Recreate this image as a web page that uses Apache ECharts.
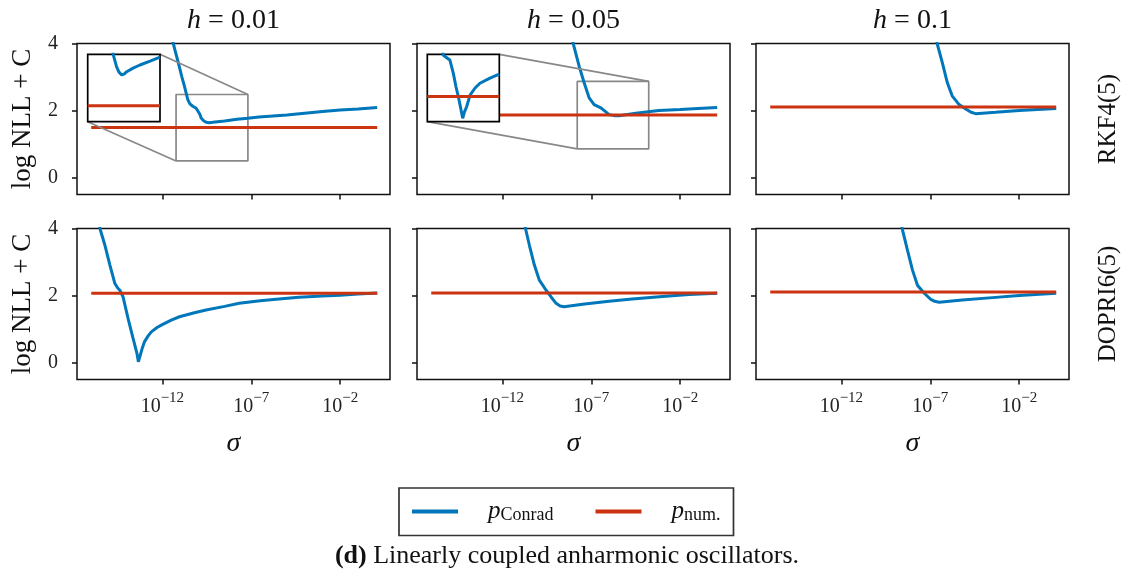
<!DOCTYPE html>
<html><head><meta charset="utf-8">
<script src="https://cdn.jsdelivr.net/npm/echarts@6/dist/echarts.min.js"></script>
<style>html,body{margin:0;padding:0;background:#fff}#c{width:1135px;height:585px}</style>
</head><body><div id="c"></div>
<script>
// ---------------- data (x = log10 sigma) ----------------
const stepSizes = ['0.01', '0.05', '0.1'];
const solvers = ['RKF4(5)', 'DOPRI6(5)'];
const xTickExponents = [-12, -7, -2];
const yTicks = [0, 2, 4];
const xRange = [-16.8, 0.8];
const yRange = [-0.5, 4];

const conrad_RKF45_h001 = [[-11.6,4.45],[-11.37,3.97],[-11.2,3.62],[-11.05,3.32],[-10.9,3.0],[-10.76,2.73],[-10.57,2.33],[-10.45,2.2],[-10.29,2.13],[-10.1,2.07],[-10.01,2.03],[-9.9,1.9],[-9.82,1.78],[-9.68,1.7],[-9.54,1.65],[-9.35,1.64],[-9.17,1.65],[-8.5,1.69],[-7.8,1.74],[-7.2,1.77],[-6.56,1.81],[-5,1.87],[-4,1.92],[-3,1.97],[-2,2.02],[-1,2.05],[0.08,2.09]];
const conrad_RKF45_h005 = [[-8.2,4.4],[-8.0,3.97],[-7.68,3.32],[-7.4,2.83],[-7.12,2.38],[-6.84,2.18],[-6.46,2.08],[-6.2,1.97],[-6.0,1.88],[-5.7,1.85],[-5.44,1.85],[-4.5,1.92],[-3.2,2.0],[-2,2.03],[-1,2.06],[0.08,2.09]];
const conrad_RKF45_h01 = [[-6.75,4.3],[-6.6,3.97],[-6.32,3.42],[-6.04,2.83],[-5.76,2.43],[-5.38,2.18],[-5.01,2.05],[-4.7,1.95],[-4.45,1.91],[-3.33,1.95],[-2,2.0],[0.08,2.06]];
const conrad_DOPRI65_h001 = [[-15.7,4.4],[-15.51,4.0],[-15.23,3.5],[-14.95,2.91],[-14.67,2.36],[-14.5,2.22],[-14.39,2.16],[-14.21,1.96],[-13.93,1.32],[-13.65,0.73],[-13.43,0.28],[-13.35,0.03],[-13.3,0.02],[-13.24,0.23],[-13.15,0.4],[-13.0,0.63],[-12.8,0.8],[-12.62,0.92],[-12.3,1.05],[-12.06,1.12],[-11.5,1.27],[-11.04,1.37],[-10.2,1.49],[-9.54,1.57],[-8.5,1.68],[-7.68,1.77],[-6.5,1.85],[-5.44,1.9],[-4.33,1.95],[-3,1.99],[-2,2.01],[-1,2.05],[0.08,2.08]];
const conrad_DOPRI65_h005 = [[-10.85,4.35],[-10.7,4.0],[-10.48,3.5],[-10.2,2.91],[-9.92,2.46],[-9.54,2.16],[-9.26,1.96],[-8.98,1.77],[-8.75,1.69],[-8.52,1.67],[-7.49,1.74],[-6,1.83],[-4.7,1.9],[-3,1.97],[-1.5,2.03],[0.08,2.07]];
const conrad_DOPRI65_h01 = [[-8.72,4.35],[-8.56,3.95],[-8.28,3.35],[-8.0,2.76],[-7.72,2.31],[-7.34,2.07],[-6.97,1.89],[-6.75,1.83],[-6.5,1.8],[-5.2,1.87],[-3.5,1.94],[-2,2.0],[0.08,2.07]];

const num_RKF45_h001 = [[-16,1.50],[0.08,1.50]];
const num_RKF45_h005 = [[-16,1.87],[0.08,1.87]];
const num_RKF45_h01 = [[-16,2.11],[0.08,2.11]];
const num_DOPRI65_h001 = [[-16,2.07],[0.08,2.07]];
const num_DOPRI65_h005 = [[-16,2.08],[0.08,2.08]];
const num_DOPRI65_h01 = [[-16,2.11],[0.08,2.11]];

// insets (RKF4(5), h=0.01 and h=0.05)
const inset1_x = [-11.2, -7.2];
const inset1_y = [1.42, 1.76];
const inset1_conrad = [[-9.85,1.80],[-9.78,1.756],[-9.6,1.697],[-9.47,1.67],[-9.32,1.656],[-9.19,1.66],[-9.04,1.672],[-8.69,1.69],[-8.31,1.706],[-7.75,1.726],[-7.2,1.746]];
const zoomBox1_x = [-11.23, -7.19];
const zoomBox1_y = [0.5, 2.48];

const inset2_x = [-7.77, -3.76];
const inset2_y = [1.72, 2.12];
const inset2_conrad = [[-6.95,2.16],[-6.88,2.116],[-6.67,2.098],[-6.51,2.086],[-6.32,2.007],[-6.17,1.926],[-6.04,1.868],[-5.89,1.789],[-5.8,1.74],[-5.7,1.778],[-5.58,1.809],[-5.39,1.878],[-5.11,1.92],[-4.84,1.948],[-4.28,1.979],[-3.76,2.003]];
const zoomBox2_x = [-7.79, -3.77];
const zoomBox2_y = [0.86, 2.87];

const conradData = [conrad_RKF45_h001, conrad_RKF45_h005, conrad_RKF45_h01, conrad_DOPRI65_h001, conrad_DOPRI65_h005, conrad_DOPRI65_h01];
const numData = [num_RKF45_h001, num_RKF45_h005, num_RKF45_h01, num_DOPRI65_h001, num_DOPRI65_h005, num_DOPRI65_h01];

// ---------------- layout / style ----------------
const FONT = 'Liberation Serif';
const BLUE = '#0077BB', RED = '#CC3311';
const colLeft = [77, 417, 756], panelW = 313;
const rowTop = [43.5, 228.5], panelH = 151;
const insetRects = [{left: 87.7, top: 54.3, width: 72.3, height: 67.4}, {left: 427.3, top: 54.3, width: 72, height: 67.4}];
const insets = [
  {grid: 0, x: inset1_x, y: inset1_y, data: inset1_conrad, num: num_RKF45_h001, bx: zoomBox1_x, by: zoomBox1_y},
  {grid: 1, x: inset2_x, y: inset2_y, data: inset2_conrad, num: num_RKF45_h005, bx: zoomBox2_x, by: zoomBox2_y}
];

const grids = [], xAxes = [], yAxes = [], series = [];
const tickStyle = {color: '#111', width: 1.5};
for (let r = 0; r < 2; r++) {
  for (let c = 0; c < 3; c++) {
    const i = r * 3 + c;
    grids.push({left: colLeft[c], top: rowTop[r], width: panelW, height: panelH, show: true,
      borderColor: '#111', borderWidth: 1.5, backgroundColor: 'transparent'});
    xAxes.push({gridIndex: i, type: 'value', position: 'bottom', min: xRange[0], max: xRange[1],
      axisLine: {show: false, onZero: false}, splitLine: {show: false},
      axisTick: {show: true, inside: false, customValues: xTickExponents, length: 5, lineStyle: tickStyle},
      axisLabel: {show: r === 1, customValues: xTickExponents, margin: 11,
        formatter: v => '{b|10}{s|\u2212' + Math.abs(v) + '}',
        rich: {b: {fontFamily: FONT, fontSize: 20, color: '#222', lineHeight: 26, verticalAlign: 'bottom'},
               s: {fontFamily: FONT, fontSize: 15, color: '#222', verticalAlign: 'top'}}},
      name: r === 1 ? '\u03c3' : '', nameLocation: 'middle', nameGap: 50,
      nameTextStyle: {fontFamily: FONT, fontStyle: 'italic', fontSize: 28, color: '#111'}});
    yAxes.push({gridIndex: i, type: 'value', position: 'left', min: yRange[0], max: yRange[1],
      axisLine: {show: false, onZero: false}, splitLine: {show: false},
      axisTick: {show: true, inside: false, customValues: yTicks, length: 5, lineStyle: tickStyle},
      axisLabel: {show: c === 0, customValues: yTicks, margin: 19, fontFamily: FONT, fontSize: 20, color: '#222'},
      name: c === 0 ? 'log NLL + C' : '', nameLocation: 'middle', nameGap: 41, nameRotate: 90,
      nameTextStyle: {fontFamily: FONT, fontSize: 27, color: '#111'}});
    series.push({type: 'line', name: 'Conrad', xAxisIndex: i, yAxisIndex: i, data: conradData[i],
      symbol: 'none', showSymbol: false, lineStyle: {color: BLUE, width: 3}, itemStyle: {color: BLUE}, z: 3, silent: true});
    series.push({type: 'line', name: 'num', xAxisIndex: i, yAxisIndex: i, data: numData[i],
      symbol: 'none', showSymbol: false, lineStyle: {color: RED, width: 3}, itemStyle: {color: RED}, z: 4, silent: true});
  }
}
insets.forEach((ins, k) => {
  const gi = 6 + k;
  grids.push(Object.assign({show: true, borderColor: '#000', borderWidth: 1.7, backgroundColor: '#fff', z: 10}, insetRects[k]));
  xAxes.push({gridIndex: gi, type: 'value', min: ins.x[0], max: ins.x[1], show: false, splitLine: {show: false}});
  yAxes.push({gridIndex: gi, type: 'value', min: ins.y[0], max: ins.y[1], show: false, splitLine: {show: false}});
  series.push({type: 'line', name: 'Conrad', xAxisIndex: gi, yAxisIndex: gi, data: ins.data, symbol: 'none',
    lineStyle: {color: BLUE, width: 3}, itemStyle: {color: BLUE}, z: 12, silent: true});
  // the constant p_num. value, restricted to the inset's x-range
  const v = ins.num[0][1];
  series.push({type: 'line', name: 'num', xAxisIndex: gi, yAxisIndex: gi, data: [[ins.x[0], v], [ins.x[1], v]], symbol: 'none',
    lineStyle: {color: RED, width: 3, cap: 'butt'}, itemStyle: {color: RED}, z: 13, silent: true});
  // zoom indicator box in the parent axes
  const bx = ins.bx, by = ins.by;
  series.push({type: 'line', name: 'box' + k, xAxisIndex: ins.grid, yAxisIndex: ins.grid, symbol: 'none',
    data: [[bx[0], by[0]], [bx[1], by[0]], [bx[1], by[1]], [bx[0], by[1]], [bx[0], by[0]]],
    lineStyle: {color: '#888', width: 1.7}, itemStyle: {color: '#888'}, z: 2, silent: true});
});

const graphics = [];
stepSizes.forEach((h, c) => {
  graphics.push({type: 'text', id: 't' + c, x: colLeft[c] + panelW / 2, y: 21, silent: true,
    style: {text: '{i|h} = ' + h, align: 'center', verticalAlign: 'middle', fill: '#111',
      rich: {i: {fontFamily: FONT, fontStyle: 'italic', fontSize: 28, fill: '#111'}}, fontFamily: FONT, fontSize: 28}});
});
solvers.forEach((s, r) => {
  graphics.push({type: 'text', id: 'r' + r, x: 1108, y: rowTop[r] + panelH / 2, rotation: Math.PI / 2, silent: true,
    style: {text: s, align: 'center', verticalAlign: 'middle', fill: '#111', fontFamily: FONT, fontSize: 25}});
});
graphics.push({type: 'text', id: 'cap', x: 567, y: 556, silent: true,
  style: {text: '{b|(d)} Linearly coupled anharmonic oscillators.', align: 'center', verticalAlign: 'middle',
    fill: '#111', fontFamily: FONT, fontSize: 26, rich: {b: {fontFamily: FONT, fontWeight: 'bold', fontSize: 26, fill: '#111'}}}});

const option = {
  animation: false,
  backgroundColor: '#fff',
  grid: grids, xAxis: xAxes, yAxis: yAxes, series: series,
  legend: {left: 399, top: 488, orient: 'horizontal', padding: [11, 13, 11, 13], itemGap: 42,
    itemWidth: 46, itemHeight: 4, icon: 'rect', borderColor: '#333', borderWidth: 1.7, borderRadius: 0,
    data: ['Conrad', 'num'], selectedMode: false,
    formatter: n => n === 'Conrad' ? '{p|p}{s|Conrad}' : '{p|p}{s|num.}',
    textStyle: {rich: {
      p: {fontFamily: FONT, fontStyle: 'italic', fontSize: 25, color: '#111', padding: [0, 0, 0, 25], lineHeight: 26},
      s: {fontFamily: FONT, fontSize: 18, color: '#111', verticalAlign: 'bottom'}}}},
  graphic: graphics
};

const chart = echarts.init(document.getElementById('c'), null, {renderer: 'canvas'});
chart.setOption(option);

// connector lines between inset and zoom box
const conn = [];
insets.forEach((ins, k) => {
  const gi = 6 + k;
  const insTR = chart.convertToPixel({gridIndex: gi}, [ins.x[1], ins.y[1]]);
  const insBL = chart.convertToPixel({gridIndex: gi}, [ins.x[0], ins.y[0]]);
  const boxTR = chart.convertToPixel({gridIndex: ins.grid}, [ins.bx[1], ins.by[1]]);
  const boxBL = chart.convertToPixel({gridIndex: ins.grid}, [ins.bx[0], ins.by[0]]);
  [[insTR, boxTR], [insBL, boxBL]].forEach((p, j) => {
    conn.push({type: 'line', id: 'c' + k + '_' + j, silent: true, z: 9,
      shape: {x1: p[0][0], y1: p[0][1], x2: p[1][0], y2: p[1][1]},
      style: {stroke: '#888', lineWidth: 1.7}});
  });
});
chart.setOption({graphic: conn});
</script></body></html>
